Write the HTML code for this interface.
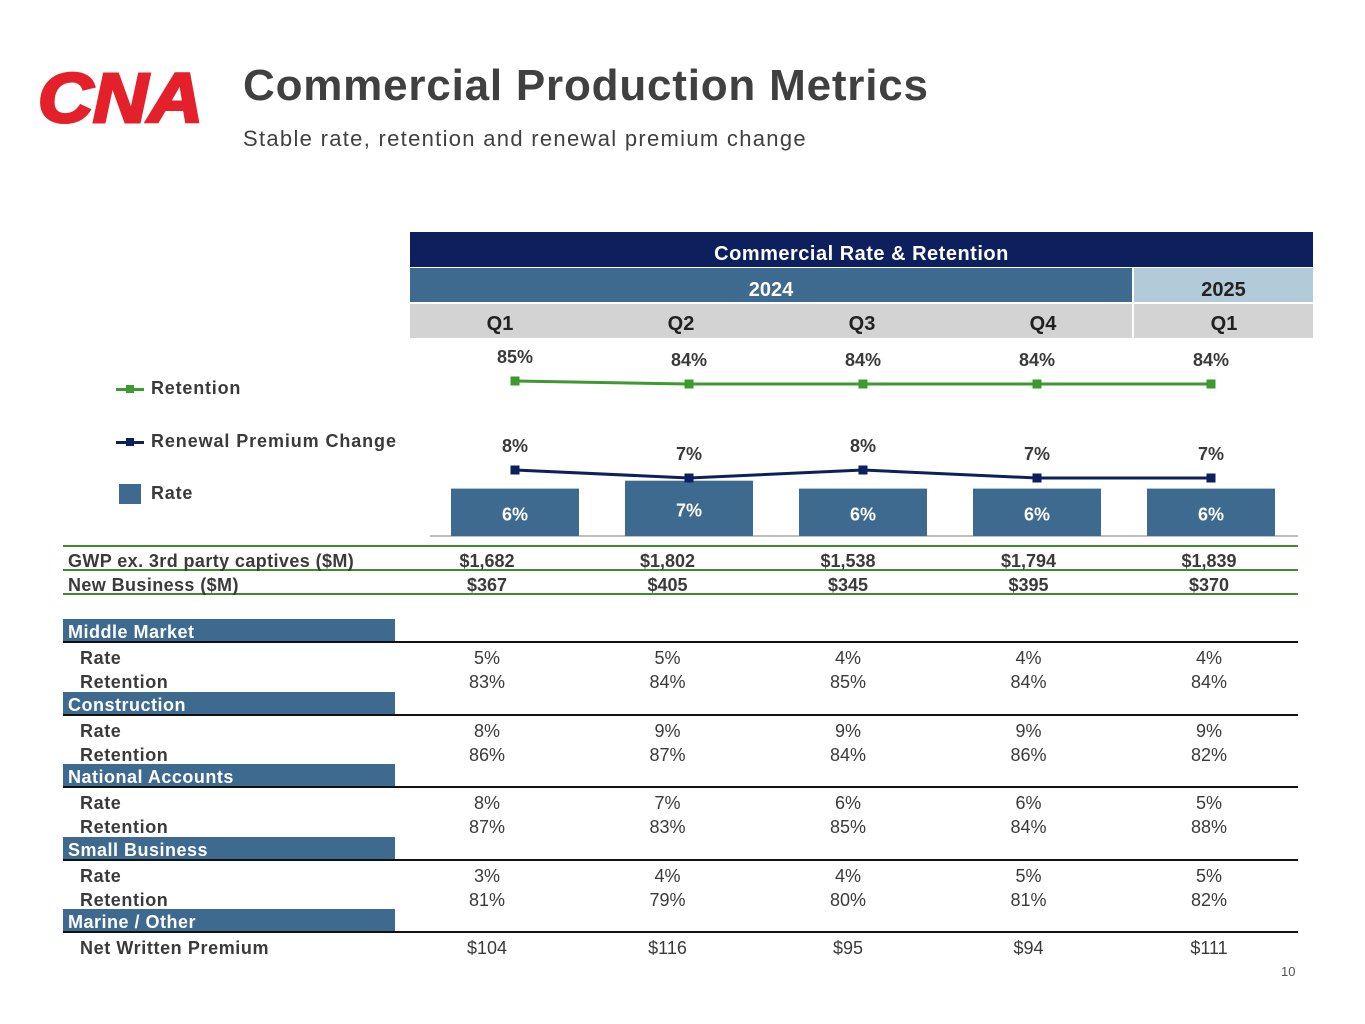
<!DOCTYPE html>
<html><head><meta charset="utf-8"><style>
body{margin:0;width:1365px;height:1024px;background:#fff;position:relative;overflow:hidden;font-family:"Liberation Sans",sans-serif;color:#3a3a3a}
.a{position:absolute;white-space:nowrap}
.hd{position:absolute;left:63px;width:332px;height:23px;background:#3d6a8e;color:#fff;font-weight:bold;font-size:18px;line-height:27px;padding-left:5px;box-sizing:border-box;letter-spacing:0.5px}
.ln{position:absolute;left:63px;width:1235px;height:2px;background:#111}
.gl{position:absolute;left:63px;width:1235px;height:2px;background:#3c8c2c}
.rl{position:absolute;left:80px;font-size:18px;font-weight:bold;letter-spacing:0.6px}
.v{position:absolute;width:120px;text-align:center;font-size:18px}
.b{font-weight:bold}
</style></head><body>
<svg class="a" style="left:38px;top:68px" width="170" height="58">
<text x="0" y="54" font-family="Liberation Sans" font-weight="bold" font-style="italic" font-size="70" fill="#e4202a" stroke="#e4202a" stroke-width="3" textLength="165" lengthAdjust="spacingAndGlyphs">CNA</text></svg>
<div class="a" style="left:243px;top:61px;font-size:44px;font-weight:bold;color:#404040;letter-spacing:0.8px">Commercial Production Metrics</div>
<div class="a" style="left:243px;top:126px;font-size:22px;color:#404040;letter-spacing:1.3px">Stable rate, retention and renewal premium change</div>

<div class="a" style="left:410px;top:232px;width:903px;height:35px;background:#0d1f5c;color:#fff;font-weight:bold;font-size:20px;text-align:center;line-height:44px;letter-spacing:0.5px">Commercial Rate &amp; Retention</div>
<div class="a" style="left:410px;top:268px;width:722px;height:34px;background:#3d6a8e;color:#fff;font-weight:bold;font-size:20px;text-align:center;line-height:44px">2024</div>
<div class="a" style="left:1134px;top:268px;width:179px;height:34px;background:#b3cad9;color:#222;font-weight:bold;font-size:20px;text-align:center;line-height:44px">2025</div>
<div class="a" style="left:410px;top:304px;width:903px;height:34px;background:#d3d3d3"></div>
<div class="a" style="left:1132px;top:304px;width:2px;height:34px;background:#fff"></div>
<div id="qrow"></div>

<svg id="chart" class="a" style="left:0;top:0" width="1365" height="545"></svg>

<div class="a" style="left:116px;top:378px;font-size:18px;font-weight:bold;letter-spacing:0.8px"><span style="display:inline-block;width:28px;height:3px;background:#3c9a2e;vertical-align:middle;position:relative;margin-right:7px"><span style="position:absolute;left:10px;top:-3px;width:8px;height:8px;background:#3c9a2e"></span></span>Retention</div>
<div class="a" style="left:116px;top:431px;font-size:18px;font-weight:bold;letter-spacing:0.9px"><span style="display:inline-block;width:28px;height:3px;background:#0d1f5c;vertical-align:middle;position:relative;margin-right:7px"><span style="position:absolute;left:10px;top:-3px;width:8px;height:8px;background:#0d1f5c"></span></span>Renewal Premium Change</div>
<div class="a" style="left:119px;top:483px;font-size:18px;font-weight:bold;letter-spacing:0.8px"><span style="display:inline-block;width:22px;height:20px;background:#3d6a8e;vertical-align:middle;margin-right:10px"></span>Rate</div>

<div id="tbl"></div>
<div class="a" style="left:1281px;top:964px;font-size:13px;color:#555">10</div>

<script>
const quarters=["Q1","Q2","Q3","Q4","Q1"];
const rateVals=[6,7,6,6,6];
const renewalVals=[8,7,8,7,7];
const retentionVals=[85,84,84,84,84];
const gwp=["$1,682","$1,802","$1,538","$1,794","$1,839"];
const newBiz=["$367","$405","$345","$395","$370"];
const segments=["Middle Market","Construction","National Accounts","Small Business"];
const segRate=[["5%","5%","4%","4%","4%"],["8%","9%","9%","9%","9%"],["8%","7%","6%","6%","5%"],["3%","4%","4%","5%","5%"]];
const segRet=[["83%","84%","85%","84%","84%"],["86%","87%","84%","86%","82%"],["87%","83%","85%","84%","88%"],["81%","79%","80%","81%","82%"]];
const nwp=["$104","$116","$95","$94","$111"];

const NS="http://www.w3.org/2000/svg";
const svg=document.getElementById("chart");
const xC=i=>515+i*174;
const yBar=v=>536-v*7.9;
const yRen=v=>534-v*8;
const yRet=v=>381+(85-v)*3;
function el(t,a){const e=document.createElementNS(NS,t);for(const k in a)e.setAttribute(k,a[k]);svg.appendChild(e);return e;}
function tx(x,y,s,fill,name){const e=el("text",{x:x,y:y,"text-anchor":"middle","font-size":18,"font-weight":"bold",fill:fill,"font-family":"Liberation Sans"});e.textContent=s;

return e;}
const ax=el("line",{x1:430,x2:1298,y1:536,y2:536,stroke:"#aaa","stroke-width":1.5});


rateVals.forEach((v,i)=>{const r=el("rect",{x:xC(i)-64,y:yBar(v),width:128,height:536-yBar(v),fill:"#3d6a8e"});


tx(xC(i),yBar(v)+(536-yBar(v))/2+8,v+"%","#fff","rate-label");});
function line(vals,fy,col,lab,name){
const p=el("polyline",{points:vals.map((v,i)=>xC(i)+","+fy(v)).join(" "),fill:"none",stroke:col,"stroke-width":3});


vals.forEach((v,i)=>{const m=el("rect",{x:xC(i)-4.5,y:fy(v)-4.5,width:9,height:9,fill:col});


tx(xC(i),fy(v)+lab,v+"%","#3a3a3a",name+'-label');});}
line(retentionVals,yRet,"#3c9a2e",-18,"retention");
line(renewalVals,yRen,"#0d1f5c",-18,"renewal");

let q="";quarters.forEach((s,i)=>{q+=`<div class="a b" style="left:${500+i*181-60}px;top:313px;width:120px;text-align:center;font-size:20px;color:#222">${s}</div>`;});
document.getElementById("qrow").innerHTML=q;

const colX=i=>487+i*180.5-60;
let h="";
h+=`<div class="gl" style="top:545px"></div><div class="gl" style="top:569px"></div><div class="gl" style="top:593px"></div>`;
h+=`<div class="a b" style="left:68px;top:551px;font-size:18px;letter-spacing:0.4px">GWP ex. 3rd party captives ($M)</div>`;
h+=`<div class="a b" style="left:68px;top:575px;font-size:18px;letter-spacing:0.4px">New Business ($M)</div>`;
gwp.forEach((s,i)=>{h+=`<div class="v b" style="left:${colX(i)}px;top:551px">${s}</div>`;});
newBiz.forEach((s,i)=>{h+=`<div class="v b" style="left:${colX(i)}px;top:575px">${s}</div>`;});
segments.concat(["Marine / Other"]).forEach((s,k)=>{const t=619+k*72.6;
h+=`<div class="hd" style="top:${t}px">${s}</div><div class="ln" style="top:${t+22}px"></div>`;
if(k<4){h+=`<div class="rl" style="top:${t+29}px">Rate</div><div class="rl" style="top:${t+53}px">Retention</div>`;
segRate[k].forEach((v,i)=>{h+=`<div class="v" style="left:${colX(i)}px;top:${t+29}px">${v}</div>`;});
segRet[k].forEach((v,i)=>{h+=`<div class="v" style="left:${colX(i)}px;top:${t+53}px">${v}</div>`;});}
else{h+=`<div class="rl" style="top:${t+29}px">Net Written Premium</div>`;
nwp.forEach((v,i)=>{h+=`<div class="v" style="left:${colX(i)}px;top:${t+29}px">${v}</div>`;});}});
document.getElementById("tbl").innerHTML=h;
</script>
</body></html>
